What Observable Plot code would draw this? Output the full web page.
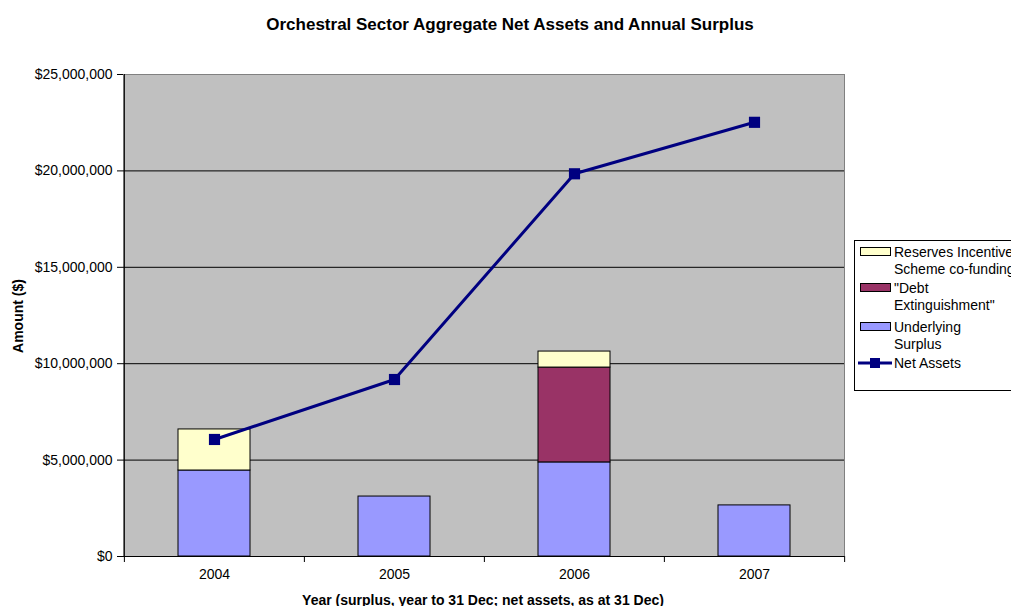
<!DOCTYPE html>
<html>
<head>
<meta charset="utf-8">
<script src="https://cdn.jsdelivr.net/npm/d3@7"></script>
<script src="https://cdn.jsdelivr.net/npm/@observablehq/plot@0.6"></script>
<style>
  html, body { margin: 0; padding: 0; background: #fff; overflow: hidden; }
  body { width: 1011px; height: 606px; position: relative; font-family: "Liberation Sans", Arial, sans-serif; }
  #chart { position: absolute; left: 0; top: 0; }
  .title { position: absolute; left: 0; width: 1020px; top: 15px; text-align: center; font-weight: bold; font-size: 17px; color: #000; }
  .ytitle { position: absolute; left: 18px; top: 316px; transform: translate(-50%, -50%) rotate(-90deg); font-weight: bold; font-size: 14px; white-space: nowrap; }
  .xtitle { position: absolute; left: 483px; top: 600px; transform: translate(-50%, -50%); font-weight: bold; font-size: 14px; white-space: nowrap; }
  #legend { position: absolute; left: 854px; top: 240px; }
</style>
</head>
<body>
<div id="chart"></div>
<div class="title">Orchestral Sector Aggregate Net Assets and Annual Surplus</div>
<div class="ytitle">Amount ($)</div>
<div class="xtitle">Year (surplus, year to 31 Dec; net assets, as at 31 Dec)</div>
<div id="legend"></div>
<script>
const years = ["2004", "2005", "2006", "2007"];
const underlying = [4460000, 3110000, 4880000, 2650000];
const debtExtinguishment = [0, 0, 4920000, 0];
const reservesIncentive = [2130000, 0, 830000, 0];
const netAssets = [6070000, 9180000, 19850000, 22520000];
const seriesNames = ["Underlying Surplus", "\"Debt Extinguishment\"", "Reserves Incentive Scheme co-funding"];
const seriesColors = ["#9999FF", "#993366", "#FFFFCC"];
const lineName = "Net Assets";
const lineColor = "#000080";
const yTicks = [0, 5000000, 10000000, 15000000, 20000000, 25000000];

const seriesValues = [underlying, debtExtinguishment, reservesIncentive];
const barRows = [];
years.forEach((yr, i) => {
  seriesNames.forEach((s, k) => {
    if (seriesValues[k][i] > 0) barRows.push({year: yr, series: s, value: seriesValues[k][i]});
  });
});
const lineRows = years.map((yr, i) => ({year: yr, value: netAssets[i]}));

const W = 1011, H = 606, mL = 123, mR = 167, mT = 74, mB = 50;
const step = (W - mL - mR) / years.length;
const fmt = d => "$" + d3.format(",")(d);

const chart = Plot.plot({
  width: W, height: H,
  marginLeft: mL, marginRight: mR, marginTop: mT, marginBottom: mB,
  style: {fontFamily: "'Liberation Sans', Arial, sans-serif", fontSize: "14px", background: "transparent", color: "#000"},
  x: {type: "band", domain: years, paddingInner: 0.6, paddingOuter: 0.3, label: null, axis: null},
  y: {domain: [0, 25000000], label: null, axis: null},
  color: {domain: seriesNames, range: seriesColors},
  marks: [
    Plot.frame({fill: "#C0C0C0", stroke: "#808080"}),
    Plot.gridY(yTicks.slice(1, -1), {stroke: "#000", strokeOpacity: 1, strokeWidth: 1}),
    Plot.barY(barRows, {x: "year", y: "value", fill: "series", stroke: "#000", strokeWidth: 1, order: seriesNames}),
    Plot.line(lineRows, {x: "year", y: "value", stroke: lineColor, strokeWidth: 3}),
    Plot.dot(lineRows, {x: "year", y: "value", symbol: "square", r: 6.3, fill: lineColor, stroke: null}),
    Plot.ruleY([0], {stroke: "#000"}),
    Plot.ruleX(years.slice(0, 1), {dx: -step / 2, stroke: "#000"}),
    Plot.axisY({ticks: yTicks, tickFormat: fmt, tickSize: 6, tickPadding: 5, label: null, fontSize: 14, stroke: "#000"}),
    Plot.axisX({tickSize: 0, tickPadding: 13, label: null, fontSize: 14}),
    Plot.axisX(years, {tickSize: 6, tickFormat: () => "", dx: -step / 2, label: null, stroke: "#000"}),
    Plot.axisX(years.slice(-1), {tickSize: 6, tickFormat: () => "", dx: step / 2, label: null, stroke: "#000"})
  ]
});
document.getElementById("chart").appendChild(chart);

// Legend
const legendItems = [
  {label: ["Reserves Incentive", "Scheme co-funding"], color: seriesColors[2], type: "box"},
  {label: ["\"Debt", "Extinguishment\""], color: seriesColors[1], type: "box"},
  {label: ["Underlying", "Surplus"], color: seriesColors[0], type: "box"},
  {label: [lineName], color: lineColor, type: "line"}
];
const lg = d3.select("#legend").append("svg").attr("width", 170).attr("height", 152)
  .style("font-family", "'Liberation Sans', Arial, sans-serif").style("font-size", "14px");
lg.append("rect").attr("x", 0.5).attr("y", 0.5).attr("width", 200).attr("height", 150)
  .attr("fill", "#fff").attr("stroke", "#000");
const rowY = [12, 48, 87, 123];
legendItems.forEach((it, i) => {
  const y0 = rowY[i];
  if (it.type === "box") {
    lg.append("rect").attr("x", 6.5).attr("y", y0 - 4.5).attr("width", 30).attr("height", 8)
      .attr("fill", it.color).attr("stroke", "#000");
  } else {
    lg.append("line").attr("x1", 4).attr("x2", 38).attr("y1", y0).attr("y2", y0)
      .attr("stroke", it.color).attr("stroke-width", 3);
    lg.append("rect").attr("x", 16).attr("y", y0 - 5).attr("width", 10).attr("height", 10).attr("fill", it.color);
  }
  it.label.forEach((t, j) => {
    lg.append("text").attr("x", 40).attr("y", y0 + j * 17).attr("dy", "0.35em").text(t);
  });
});
</script>
</body>
</html>
